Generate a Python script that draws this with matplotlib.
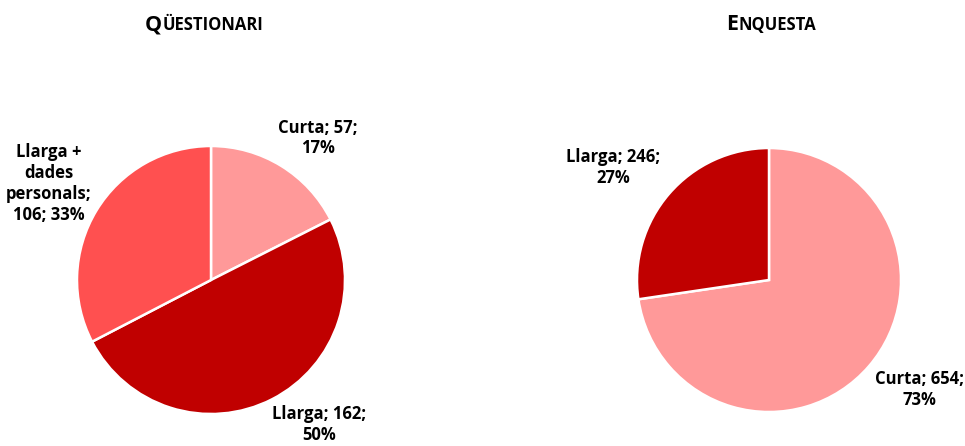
import matplotlib
matplotlib.use("Agg")
import matplotlib.pyplot as plt

plt.rcParams['font.family'] = ['Open Sans', 'DejaVu Sans']

q_labels = ["Curta", "Llarga", "Llarga +\ndades\npersonals"]
q_values = [57, 162, 106]
q_pcts = ["17%", "50%", "33%"]
q_colors = ["#FF9999", "#C00000", "#FF5050"]

e_labels = ["Curta", "Llarga"]
e_values = [654, 246]
e_pcts = ["73%", "27%"]
e_colors = ["#FF9999", "#C00000"]

W, H = 965, 446
fig = plt.figure(figsize=(W / 100, H / 100), dpi=100)


def make_ax(cx, cy, r):
    return fig.add_axes([(cx - r) / W, (H - cy - r) / H, 2 * r / W, 2 * r / H])


def draw_pie(ax, values, colors):
    ax.pie(values, colors=colors, startangle=90, counterclock=False,
           wedgeprops=dict(edgecolor="white", linewidth=1.8))
    ax.set_xlim(-1, 1)
    ax.set_ylim(-1, 1)
    ax.set_aspect("equal")


fs = 12
ls = 1.2
ax1 = make_ax(211, 280, 134)
draw_pie(ax1, q_values, q_colors)
q_pos = [(0.80, 1.06), (0.81, -1.08), (-1.21, 0.72)]
q_text = [
    f"{q_labels[0]}; {q_values[0]};\n{q_pcts[0]}",
    f"{q_labels[1]}; {q_values[1]};\n{q_pcts[1]}",
    "Llarga +\ndades\npersonals;\n" + f"{q_values[2]}; {q_pcts[2]}",
]
for (x, y), t in zip(q_pos, q_text):
    ax1.text(x, y, t, ha="center", va="center", fontsize=fs, fontweight="bold",
             linespacing=ls)

ax2 = make_ax(769, 280, 132)
draw_pie(ax2, e_values, e_colors)
e_pos = [(1.14, -0.83), (-1.18, 0.85)]
for (x, y), lab, v, p in zip(e_pos, e_labels, e_values, e_pcts):
    ax2.text(x, y, f"{lab}; {v};\n{p}", ha="center", va="center", fontsize=fs,
             fontweight="bold", linespacing=ls)


def smallcaps_title(first, rest, xc, y, big=15.5, small=12):
    renderer = fig.canvas.get_renderer()
    t1 = fig.text(0, y, first, fontsize=big, fontweight="bold", ha="left", va="baseline")
    t2 = fig.text(0, y, rest, fontsize=small, fontweight="bold", ha="left", va="baseline")
    w1 = t1.get_window_extent(renderer).width / W
    w2 = t2.get_window_extent(renderer).width / W
    x0 = xc - (w1 + w2) / 2
    t1.set_x(x0)
    t2.set_x(x0 + w1)


smallcaps_title("Q", "ÜESTIONARI", 204 / W, (H - 30) / H)
smallcaps_title("E", "NQUESTA", 771 / W, (H - 30) / H)

fig.savefig("out.png", dpi=100)
